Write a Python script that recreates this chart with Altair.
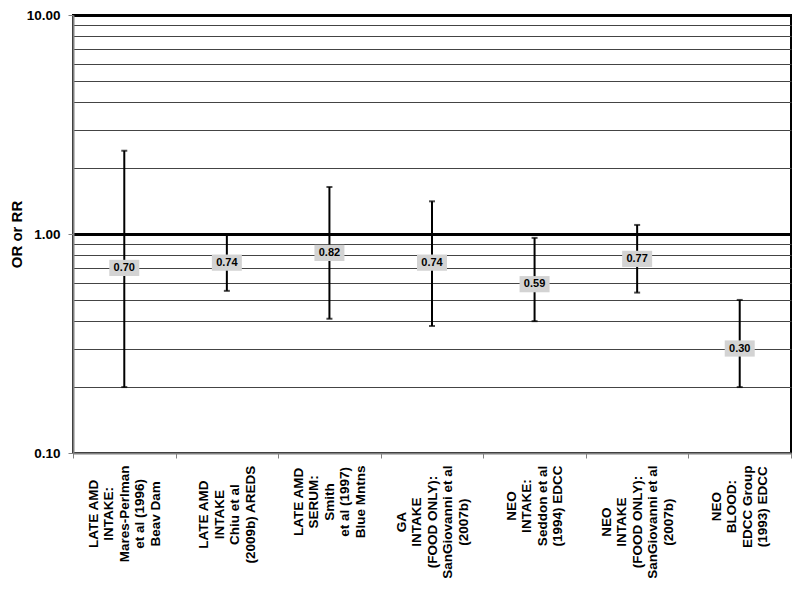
import altair as alt
import pandas as pd

categories = [
    "LATE AMD|INTAKE:|Mares-Perlman|et al (1996)|Beav Dam",
    "LATE AMD|INTAKE|Chiu et al|(2009b) AREDS",
    "LATE AMD|SERUM:|Smith|et al (1997)|Blue Mntns",
    "GA|INTAKE|(FOOD ONLY):|SanGiovanni et al|(2007b)",
    "NEO|INTAKE:|Seddon et al|(1994) EDCC",
    "NEO|INTAKE|(FOOD ONLY):|SanGiovanni et al|(2007b)",
    "NEO|BLOOD:|EDCC Group|(1993) EDCC",
]
estimates = [0.70, 0.74, 0.82, 0.74, 0.59, 0.77, 0.30]
lower = [0.20, 0.55, 0.41, 0.38, 0.40, 0.54, 0.20]
upper = [2.40, 1.00, 1.64, 1.41, 0.96, 1.10, 0.50]

grid_values = [0.1, 0.2, 0.3, 0.4, 0.5, 0.6, 0.7, 0.8, 0.9,
               1, 2, 3, 4, 5, 6, 7, 8, 9, 10]

df = pd.DataFrame({"study": categories, "est": estimates, "lo": lower, "hi": upper})

FONT = "Liberation Sans"
LABEL_SIZE = 13.5
LINE_H = 15.5
TOP_GAP = 7  # gap (px) between axis ticks and the far end of the longest label line

# approximate Arial/Helvetica Bold advance widths (per 1000 em) used to
# top-anchor the rotated, centre-aligned category labels
_W = {" ": 278, "(": 333, ")": 333, "-": 333, ":": 333, ".": 278,
      "A": 722, "B": 722, "C": 722, "D": 722, "E": 667, "F": 611, "G": 778,
      "I": 278, "K": 722, "L": 611, "M": 833, "N": 722, "O": 778, "P": 667,
      "R": 722, "S": 667, "T": 611, "U": 722, "Y": 667,
      "a": 556, "b": 611, "c": 556, "d": 611, "e": 556, "h": 611, "i": 278,
      "l": 278, "m": 889, "n": 611, "o": 611, "p": 611, "r": 389, "s": 556,
      "t": 333, "u": 611, "v": 556}


def text_width(s):
    return sum(_W.get(ch, 556) for ch in s) / 1000 * LABEL_SIZE


pad_conditions = []
for cat in categories:
    longest = max(text_width(line) for line in cat.split("|"))
    pad_conditions.append({"test": "datum.value == '" + cat + "'",
                           "value": round(TOP_GAP + longest / 2, 1)})

major = "datum.value == 0.1 || datum.value == 1 || datum.value == 10"
thick = "datum.value == 1 || datum.value == 10"
five_lines = "length(split(datum.value, '|')) == 5"

x_axis = alt.Axis(
    title=None,
    labelExpr="split(datum.label, '|')",
    labelAngle=-90,
    labelAlign="center",
    labelBaseline="middle",
    labelPadding={"condition": pad_conditions, "value": 55},
    labelOffset={"condition": {"test": five_lines, "value": -2 * LINE_H},
                 "value": -1.5 * LINE_H},
    labelFont=FONT,
    labelFontSize=LABEL_SIZE,
    labelFontWeight="bold",
    labelLineHeight=LINE_H,
    labelColor="black",
    labelOverlap=False,
    labelLimit=0,
    tickBand="extent",
    tickColor="#808080",
    tickSize=5,
    tickWidth=1,
    domainColor="#808080",
    domainWidth=2,
    grid=False,
)
x_enc = alt.X(
    "study:N",
    sort=categories,
    scale=alt.Scale(type="band", paddingInner=0, paddingOuter=0),
    axis=x_axis,
)

y_axis = alt.Axis(
    title="OR or RR",
    titleFont=FONT,
    titleFontSize=15,
    titleFontWeight="bold",
    titleColor="black",
    titlePadding=2,
    values=grid_values,
    labelExpr="(" + major + ") ? format(datum.value, '.2f') : ''",
    labelFont=FONT,
    labelFontSize=13.5,
    labelFontWeight="bold",
    labelColor="black",
    labelPadding=8,
    labelOverlap=False,
    tickSize=5,
    tickColor="#808080",
    tickOpacity={"condition": {"test": major, "value": 1}, "value": 0},
    domainColor="#808080",
    domainWidth=2,
    grid=True,
    gridColor={"condition": {"test": thick, "value": "black"}, "value": "#444444"},
    gridWidth={"condition": {"test": thick, "value": 3}, "value": 1},
    gridOpacity=1,
)
y_scale = alt.Scale(type="log", domain=[0.1, 10], nice=False)

base = alt.Chart(df)

rules = base.mark_rule(color="black", strokeWidth=2).encode(
    x=x_enc,
    y=alt.Y("lo:Q", scale=y_scale, axis=y_axis),
    y2="hi:Q",
)
caps_lo = base.mark_tick(color="black", orient="horizontal", size=6, thickness=2).encode(
    x=x_enc,
    y=alt.Y("lo:Q", scale=y_scale, axis=y_axis),
)
caps_hi = base.mark_tick(color="black", orient="horizontal", size=6, thickness=2).encode(
    x=x_enc,
    y=alt.Y("hi:Q", scale=y_scale, axis=y_axis),
)
boxes = base.mark_point(
    shape="M-1,-0.54L1,-0.54L1,0.54L-1,0.54Z",
    size=900,
    filled=True,
    fill="#d3d3d3",
    strokeWidth=0,
    opacity=1,
).encode(
    x=x_enc,
    y=alt.Y("est:Q", scale=y_scale, axis=y_axis),
)
labels = base.mark_text(
    font=FONT, fontSize=11, fontWeight="bold", color="black",
    align="center", baseline="middle",
).encode(
    x=x_enc,
    y=alt.Y("est:Q", scale=y_scale, axis=y_axis),
    text=alt.Text("est:Q", format=".2f"),
)

chart = alt.layer(rules, caps_lo, caps_hi, boxes, labels).properties(
    width=718,
    height=438,
    autosize=alt.AutoSizeParams(type="none"),
    padding={"left": 65, "top": 7, "right": 1, "bottom": 128},
    background="white",
).configure_view(stroke="black", strokeWidth=2)

chart.save("out.html", embed_options={"renderer": "svg", "actions": False})
